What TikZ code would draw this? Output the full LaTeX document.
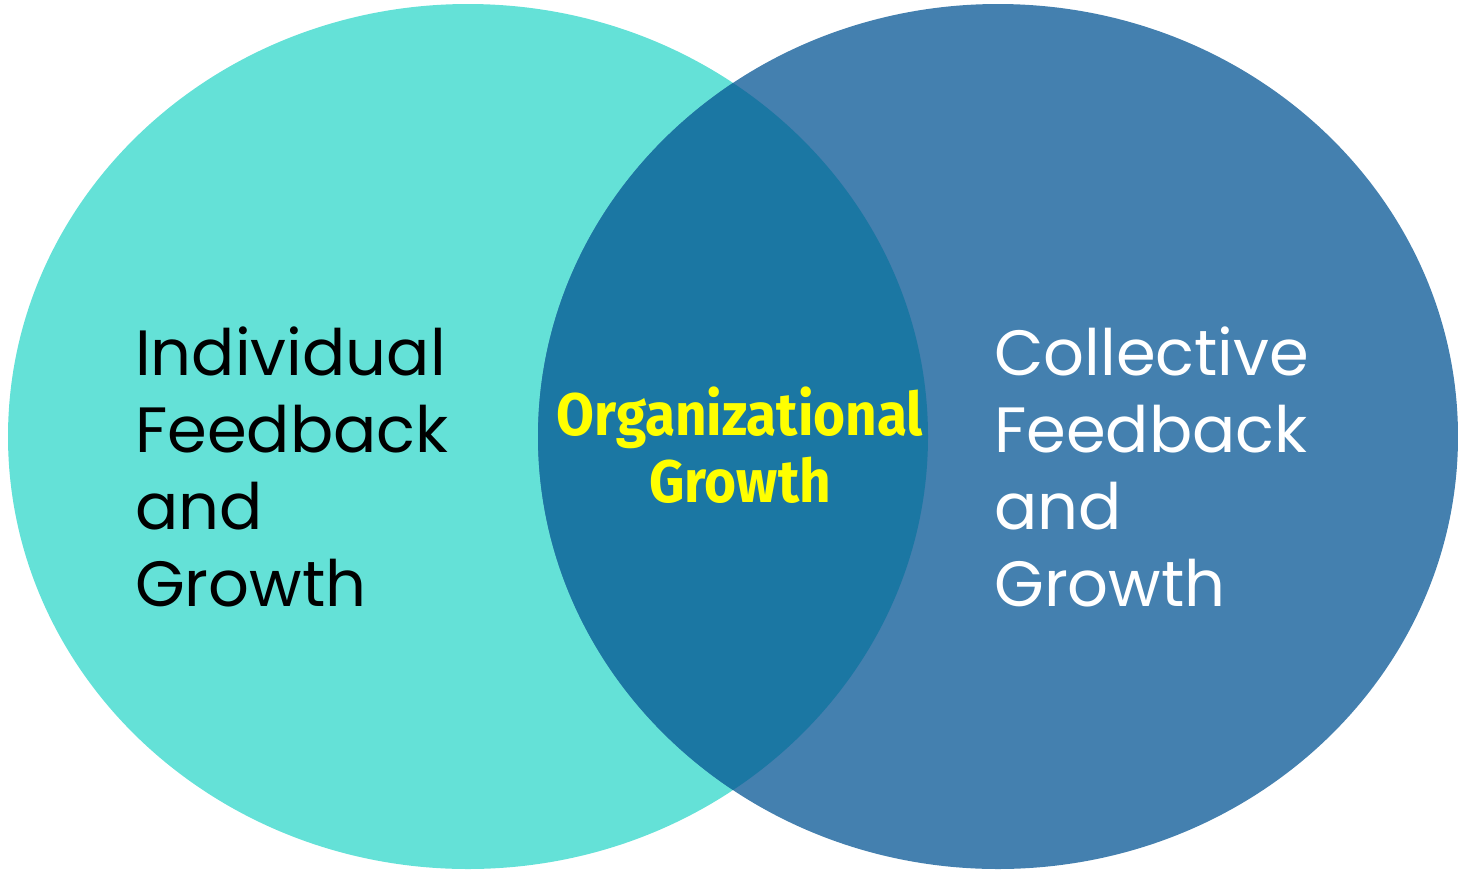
\documentclass[tikz,border=0pt]{standalone}
\usepackage{fontspec}
\newfontfamily\pop{Poppins}
\newfontfamily\orgfont{Fira Sans}
\definecolor{leftc}{HTML}{64E1D7}
\definecolor{rightc}{HTML}{4480AF}
\definecolor{midc}{HTML}{1B77A3}
\definecolor{yel}{HTML}{FFFF00}
\begin{document}
\begin{tikzpicture}[x=1pt,y=-1pt,
  lbl/.style={anchor=base west,inner sep=0pt,font=\pop\fontsize{64}{77}\selectfont},
  org/.style={anchor=base,inner sep=0pt,text=yel,font=\orgfont\bfseries\fontsize{60}{67}\selectfont}]
\useasboundingbox (0,0) rectangle (1458,871);
\fill[leftc] (468,436.5) ellipse [x radius=460,y radius=432.5];
\fill[rightc] (998,436.5) ellipse [x radius=460,y radius=432.5];
\begin{scope}
\clip (468,436.5) ellipse [x radius=460,y radius=432.5];
\fill[midc] (998,436.5) ellipse [x radius=460,y radius=432.5];
\end{scope}
\node[lbl,text=black] (l1) at (135,375) {Individual};
\node[lbl,text=black] (l2) at (135,452) {Feedback};
\node[lbl,text=black] (l3) at (135,529) {and};
\node[lbl,text=black] (l4) at (135,606) {Growth};
\node[lbl,text=white] (r1) at (994,375) {Collective};
\node[lbl,text=white] (r2) at (994,452) {Feedback};
\node[lbl,text=white] (r3) at (994,529) {and};
\node[lbl,text=white] (r4) at (994,606) {Growth};
\node[org] (o1) at (740,435) {\scalebox{0.915}[1]{Organizational}};
\node[org] (o2) at (740,502) {\scalebox{0.915}[1]{Growth}};
\end{tikzpicture}
\end{document}
